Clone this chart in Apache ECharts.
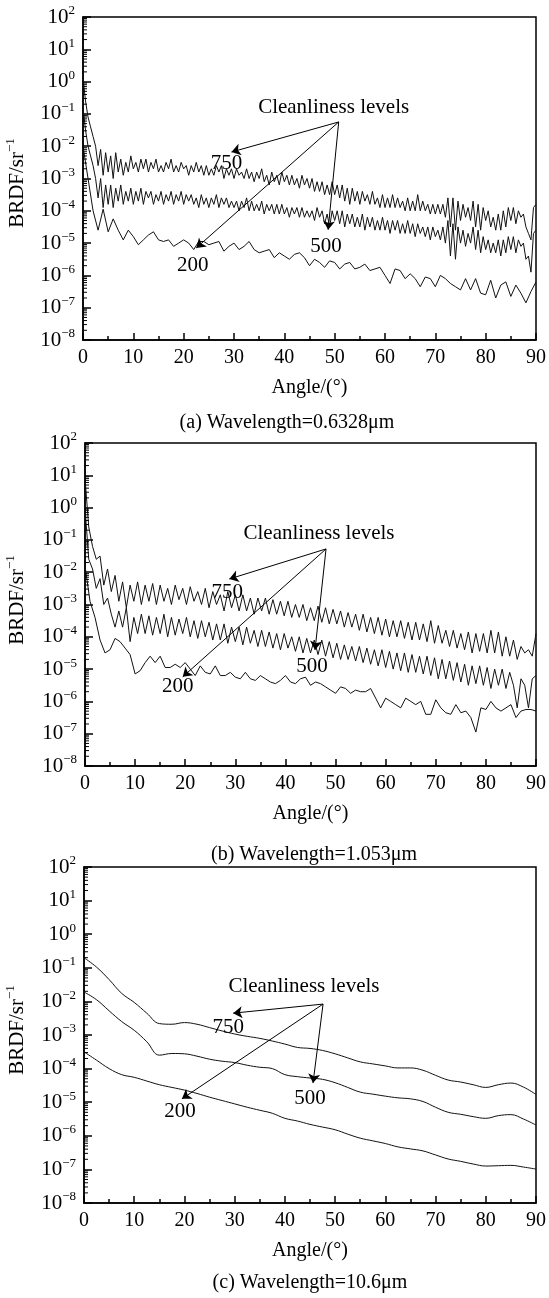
<!DOCTYPE html>
<html>
<head>
<meta charset="utf-8">
<script src="https://cdn.jsdelivr.net/npm/echarts@6/dist/echarts.min.js"></script>
<style>
html,body{margin:0;padding:0;background:#fff;}
#chart{width:549px;height:1298px;}
</style>
</head>
<body>
<div id="chart"></div>
<script>
// ---------- DATA (log10 of BRDF) ----------
// x tick labels / y decades
const xTicks = [0, 10, 20, 30, 40, 50, 60, 70, 80, 90];
const yDecades = [-8, -7, -6, -5, -4, -3, -2, -1, 0, 1, 2];
const levelLabels = ['750', '500', '200'];
const captions = ['(a) Wavelength=0.6328\u03bcm', '(b) Wavelength=1.053\u03bcm', '(c) Wavelength=10.6\u03bcm'];

// (a) 0.6328 um : angle step 0.5 deg for 750 and 500, 1 deg for 200
const stepA = 0.5, stepA200 = 1;
const a750 = [
 0.1,-0.6,-1.1,-1.4,-1.7,-2.0,-2.6,-2.1,-2.9,-2.2,
 -2.8,-2.3,-3.0,-2.2,-2.8,-2.4,-2.9,-2.5,-2.8,-2.3,
 -2.7,-2.5,-2.8,-2.4,-2.7,-2.4,-2.8,-2.5,-2.7,-2.4,
 -2.8,-2.6,-2.8,-2.5,-2.7,-2.4,-2.8,-2.6,-2.8,-2.5,
 -2.7,-2.6,-2.9,-2.6,-2.8,-2.5,-2.8,-2.6,-2.9,-2.6,
 -2.9,-2.7,-2.9,-2.6,-2.8,-2.6,-3.0,-2.7,-2.9,-2.7,
 -3.0,-2.7,-2.9,-2.8,-3.0,-2.7,-3.0,-2.8,-3.1,-2.8,
 -3.0,-2.7,-3.1,-2.9,-3.2,-2.8,-3.1,-2.9,-3.2,-2.8,
 -3.1,-2.9,-3.2,-2.9,-3.2,-3.0,-3.3,-2.9,-3.2,-3.0,
 -3.3,-3.0,-3.4,-3.1,-3.4,-3.1,-3.5,-3.2,-3.5,-3.1,
 -3.5,-3.2,-3.6,-3.2,-3.7,-3.3,-3.8,-3.3,-3.7,-3.4,
 -3.8,-3.4,-3.7,-3.5,-3.8,-3.4,-3.8,-3.6,-3.9,-3.5,
 -3.9,-3.6,-3.9,-3.5,-3.9,-3.6,-3.9,-3.7,-4.0,-3.6,
 -4.0,-3.7,-4.0,-3.5,-4.0,-3.7,-4.0,-3.8,-4.1,-3.8,
 -4.1,-3.8,-4.1,-3.8,-4.2,-3.6,-4.5,-3.6,-4.6,-3.7,
 -4.3,-3.8,-4.2,-3.9,-4.3,-3.7,-4.5,-3.8,-4.6,-3.9,
 -4.3,-4.0,-4.5,-4.2,-4.6,-4.1,-4.6,-4.0,-4.5,-3.9,
 -4.3,-3.9,-4.4,-4.0,-4.2,-4.1,-4.5,-4.7,-4.9,-3.9,
 -3.8
];
const a500 = [
 -0.8,-1.5,-2.0,-2.3,-2.6,-3.0,-3.6,-3.0,-3.9,-3.2,
 -3.8,-3.2,-3.9,-3.3,-3.7,-3.2,-3.8,-3.4,-3.7,-3.3,
 -3.8,-3.4,-3.7,-3.3,-3.8,-3.4,-3.6,-3.4,-3.8,-3.5,
 -3.7,-3.4,-3.8,-3.5,-3.7,-3.4,-3.8,-3.5,-3.7,-3.4,
 -3.8,-3.5,-3.7,-3.5,-3.8,-3.6,-3.9,-3.5,-3.8,-3.6,
 -3.9,-3.6,-3.8,-3.5,-3.9,-3.6,-3.8,-3.6,-3.9,-3.7,
 -3.9,-3.7,-4.0,-3.7,-3.9,-3.6,-4.0,-3.7,-4.0,-3.8,
 -4.0,-3.7,-4.1,-3.8,-4.0,-3.8,-4.1,-3.8,-4.1,-3.8,
 -4.1,-3.9,-4.2,-3.9,-4.1,-3.9,-4.2,-3.9,-4.2,-4.0,
 -4.2,-4.0,-4.3,-3.9,-4.2,-4.0,-4.4,-4.1,-4.5,-4.0,
 -4.3,-4.0,-4.4,-4.0,-4.5,-4.1,-4.4,-4.1,-4.5,-4.2,
 -4.5,-4.1,-4.6,-4.2,-4.5,-4.2,-4.6,-4.3,-4.6,-4.2,
 -4.6,-4.3,-4.7,-4.3,-4.6,-4.3,-4.7,-4.4,-4.7,-4.3,
 -4.7,-4.4,-4.8,-4.4,-4.7,-4.5,-4.8,-4.5,-4.9,-4.5,
 -4.8,-4.6,-4.9,-4.5,-5.0,-4.3,-5.4,-4.4,-5.5,-4.5,
 -5.0,-4.6,-5.1,-4.7,-5.0,-4.5,-5.2,-4.6,-5.3,-4.8,
 -5.2,-4.9,-5.3,-5.0,-5.3,-4.9,-5.4,-4.9,-5.3,-4.8,
 -5.2,-4.8,-5.3,-4.9,-5.1,-5.0,-5.5,-5.4,-5.9,-4.7,
 -4.6
];
const a200 = [
 -2.0,-3.0,-4.0,-4.6,-3.95,-4.65,-4.25,-4.6,-4.9,-4.6,
 -4.8,-5.05,-4.9,-4.75,-4.65,-4.9,-4.95,-4.9,-5.1,-5.0,
 -4.9,-5.0,-5.2,-4.95,-4.95,-5.05,-5.0,-4.95,-5.25,-5.1,
 -5.0,-5.2,-5.1,-4.95,-5.2,-5.3,-5.25,-5.2,-5.45,-5.3,
 -5.4,-5.5,-5.35,-5.3,-5.45,-5.7,-5.5,-5.6,-5.75,-5.55,
 -5.6,-5.8,-5.65,-5.6,-5.8,-5.75,-5.65,-5.85,-5.8,-5.75,
 -6.0,-6.25,-5.8,-5.85,-6.1,-5.95,-6.1,-6.35,-6.05,-6.1,
 -6.35,-6.0,-6.1,-6.25,-6.35,-6.45,-6.1,-6.45,-6.1,-6.55,
 -6.6,-6.15,-6.7,-6.3,-6.2,-6.65,-6.3,-6.55,-6.85,-6.5,
 -6.2
];

// (b) 1.053 um : angle step 0.75 deg for 750 and 500, 1 deg for 200
const stepB = 0.75, stepB200 = 1;
const b750 = [
 0.9,-0.6,-1.2,-1.6,-1.5,-2.4,-1.9,-2.6,
 -2.1,-2.9,-2.3,-3.1,-2.4,-2.9,-2.3,-3.0,
 -2.4,-2.9,-2.35,-3.0,-2.4,-2.9,-2.5,-3.0,
 -2.4,-2.85,-2.5,-3.0,-2.45,-2.9,-2.6,-3.0,
 -2.5,-3.1,-2.6,-3.0,-2.7,-3.2,-2.6,-3.1,
 -2.7,-3.2,-2.7,-3.2,-2.8,-3.3,-2.8,-3.2,
 -2.8,-3.3,-2.85,-3.3,-2.9,-3.35,-2.9,-3.4,
 -3.0,-3.4,-3.0,-3.5,-3.1,-3.5,-3.05,-3.55,
 -3.1,-3.6,-3.15,-3.6,-3.2,-3.7,-3.25,-3.7,
 -3.3,-3.8,-3.3,-3.85,-3.4,-3.9,-3.4,-3.95,
 -3.45,-4.0,-3.5,-4.0,-3.5,-4.05,-3.55,-4.1,
 -3.55,-4.1,-3.6,-4.15,-3.5,-4.2,-3.65,-4.2,
 -3.8,-4.3,-3.8,-4.35,-3.9,-4.4,-3.85,-4.5,
 -3.9,-4.45,-3.9,-4.5,-3.8,-4.5,-3.85,-4.6,
 -4.0,-4.6,-4.1,-4.7,-4.3,-4.5,-4.4,-4.6,
 -3.9
];
const b500 = [
 0.0,-1.6,-1.9,-2.5,-2.2,-3.0,-2.8,-3.3,
 -3.7,-3.2,-3.7,-3.1,-4.15,-3.4,-3.9,-3.3,
 -3.9,-3.35,-3.95,-3.4,-3.9,-3.3,-4.0,-3.4,
 -3.95,-3.45,-3.9,-3.4,-4.0,-3.5,-4.05,-3.5,
 -4.0,-3.55,-4.1,-3.6,-4.1,-3.6,-4.2,-3.7,
 -4.15,-3.7,-4.25,-3.7,-4.2,-3.8,-4.3,-3.8,
 -4.3,-3.85,-4.35,-3.9,-4.4,-3.9,-4.35,-4.0,
 -4.45,-4.0,-4.5,-4.05,-4.5,-4.1,-4.55,-4.1,
 -4.6,-4.15,-4.65,-4.2,-4.7,-4.25,-4.7,-4.3,
 -4.75,-4.3,-4.8,-4.35,-4.85,-4.4,-4.9,-4.4,
 -4.95,-4.45,-5.0,-4.5,-5.05,-4.5,-5.1,-4.55,
 -5.1,-4.6,-5.15,-4.6,-5.2,-4.65,-5.3,-4.7,
 -5.3,-4.75,-5.35,-4.8,-5.4,-4.85,-5.5,-4.9,
 -5.45,-4.9,-5.5,-4.95,-5.6,-5.0,-5.5,-5.0,
 -5.6,-5.1,-5.5,-6.2,-5.3,-5.5,-6.2,-5.3,
 -5.2
];
const b200 = [
 -1.8,-2.9,-3.4,-4.1,-4.5,-4.4,-4.05,-4.15,-4.35,-4.55,
 -5.15,-5.05,-4.8,-4.6,-4.8,-4.6,-4.95,-4.95,-4.85,-4.95,
 -4.8,-5.0,-5.2,-4.9,-5.1,-5.15,-4.9,-5.2,-5.2,-5.1,
 -5.25,-5.3,-5.1,-5.3,-5.35,-5.2,-5.3,-5.4,-5.45,-5.35,
 -5.2,-5.4,-5.45,-5.3,-5.25,-5.5,-5.4,-5.45,-5.55,-5.65,
 -5.75,-5.55,-5.6,-5.75,-5.65,-5.7,-5.7,-5.6,-5.9,-6.2,
 -5.9,-6.0,-6.1,-6.2,-5.9,-6.0,-6.1,-6.0,-6.4,-6.4,
 -5.95,-6.2,-6.35,-6.4,-6.1,-6.35,-6.3,-6.5,-6.95,-6.2,
 -6.25,-6.0,-6.2,-6.3,-6.2,-6.1,-6.5,-6.3,-6.25,-6.25,
 -6.3
];

// (c) 10.6 um : angle step 2.5 deg
const stepC = 2.5;
const c750 = [-0.70,-0.98,-1.35,-1.76,-2.03,-2.35,-2.66,-2.68,-2.63,-2.68,-2.78,-2.88,-2.97,-3.04,-3.10,-3.18,-3.27,-3.37,-3.40,-3.46,-3.56,-3.68,-3.80,-3.86,-3.92,-3.98,-3.98,-4.05,-4.20,-4.34,-4.40,-4.48,-4.56,-4.48,-4.43,-4.55,-4.77];
const c500 = [-1.72,-1.95,-2.28,-2.60,-2.86,-3.20,-3.60,-3.55,-3.56,-3.63,-3.72,-3.78,-3.82,-3.90,-3.96,-4.00,-4.18,-4.24,-4.28,-4.32,-4.42,-4.56,-4.70,-4.76,-4.82,-4.87,-4.90,-4.98,-5.15,-5.30,-5.36,-5.43,-5.48,-5.40,-5.37,-5.50,-5.68];
const c200 = [-3.50,-3.75,-4.00,-4.18,-4.26,-4.37,-4.48,-4.56,-4.64,-4.74,-4.85,-4.95,-5.05,-5.15,-5.24,-5.33,-5.48,-5.56,-5.66,-5.74,-5.82,-5.95,-6.07,-6.15,-6.23,-6.33,-6.39,-6.45,-6.57,-6.69,-6.76,-6.84,-6.90,-6.89,-6.88,-6.93,-6.99];

// ---------- LAYOUT ----------
const FONT = 'Liberation Serif';
const panels = [
  { grid: {left: 83, top: 17, width: 455, height: 323},
    series: [[a750, stepA, false], [a500, stepA, false], [a200, stepA200, false]],
    caption: {x: 287, y: 423}, yname: {x: 17, y: 183},
    ann: {text: [49.8, -0.79], apex: [50.8, -1.25],
          tips: [[29.5, -2.18], [48.7, -4.59], [22.5, -5.15]],
          labels: [[28.5, -2.52], [48.3, -5.12], [21.8, -5.68]]} },
  { grid: {left: 85, top: 443, width: 453, height: 323},
    series: [[b750, stepB, false], [b500, stepB, false], [b200, stepB200, false]],
    caption: {x: 314, y: 855}, yname: {x: 17, y: 600},
    ann: {text: [46.7, -0.79], apex: [48.1, -1.28],
          tips: [[28.8, -2.21], [45.9, -4.41], [19.5, -5.24]],
          labels: [[28.4, -2.64], [45.3, -4.93], [18.5, -5.55]]} },
  { grid: {left: 84, top: 867, width: 452, height: 336},
    series: [[c750, stepC, true], [c500, stepC, true], [c200, stepC, true]],
    caption: {x: 310, y: 1283}, yname: {x: 17, y: 1030},
    ann: {text: [43.8, -1.57], apex: [47.6, -2.08],
          tips: [[29.7, -2.35], [45.6, -4.43], [19.5, -4.9]],
          labels: [[28.7, -2.79], [45.0, -4.88], [19.1, -5.29]]} }
];

const toPoints = (logs, step) => logs.map((e, i) => [+(i * step).toFixed(3), Math.pow(10, e)]);
const P = (c) => [c[0], Math.pow(10, c[1])];

// minor log ticks (2..9 x 10^k)
const minorVals = [];
for (let k = yDecades[0]; k < yDecades[yDecades.length - 1]; k++) {
  for (let m = 2; m <= 9; m++) minorVals.push([0, m * Math.pow(10, k)]);
}

const supText = (n) => (n < 0 ? '\u2212' + (-n) : '' + n);

const grids = [], xAxes = [], yAxes = [], series = [], graphics = [];
panels.forEach((p, i) => {
  grids.push(Object.assign({show: true, borderColor: '#000', borderWidth: 1.5, backgroundColor: 'transparent'}, p.grid));
  xAxes.push({
    type: 'value', gridIndex: i, min: xTicks[0], max: xTicks[xTicks.length - 1], interval: 10,
    name: 'Angle/(\u00b0)', nameLocation: 'middle', nameGap: 38,
    nameTextStyle: {fontFamily: FONT, fontSize: 20, color: '#000'},
    axisLine: {show: true, onZero: false, lineStyle: {color: '#000', width: 1.5}},
    axisTick: {show: true, inside: true, length: 7, lineStyle: {color: '#000', width: 1.5}},
    minorTick: {show: true, splitNumber: 2, length: 4, lineStyle: {color: '#000', width: 1.5}},
    splitLine: {show: false},
    axisLabel: {fontFamily: FONT, fontSize: 20, color: '#000', margin: 8}
  });
  yAxes.push({
    type: 'log', logBase: 10, gridIndex: i, min: Math.pow(10, yDecades[0]), max: Math.pow(10, yDecades[yDecades.length - 1]),
    interval: 1, splitNumber: 10,
    axisLine: {show: true, onZero: false, lineStyle: {color: '#000', width: 1.5}},
    axisTick: {show: true, inside: true, length: 8, lineStyle: {color: '#000', width: 1.5}},
    splitLine: {show: false},
    axisLabel: {
      margin: 8, showMinLabel: true, showMaxLabel: true,
      formatter: (v) => '{b|10}{s|' + supText(Math.round(Math.log10(v))) + '}',
      rich: {
        b: {fontFamily: FONT, fontSize: 21, color: '#000'},
        s: {fontFamily: FONT, fontSize: 13, color: '#000', padding: [0, 0, 12, 0]}
      }
    }
  });
  p.series.forEach((s, j) => {
    const ser = {
      type: 'line', xAxisIndex: i, yAxisIndex: i, name: levelLabels[j],
      data: toPoints(s[0], s[1]), showSymbol: false, symbol: 'none', smooth: s[2] ? 0.4 : false,
      lineStyle: {color: '#111', width: 1}, silent: true, z: 2
    };
    if (j === 0) {
      const a = p.ann;
      ser.markLine = {
        silent: true, symbol: ['none', 'arrow'], symbolSize: 9, animation: false,
        lineStyle: {color: '#000', width: 1, type: 'solid'}, label: {show: false},
        emphasis: {disabled: true},
        data: a.tips.map(t => [{coord: P(a.apex)}, {coord: P(t)}])
      };
      ser.markPoint = {
        silent: true, symbol: 'circle', symbolSize: 1, animation: false,
        itemStyle: {color: 'rgba(0,0,0,0)'},
        label: {show: true, position: 'inside', fontFamily: FONT, fontSize: 21, color: '#000'},
        data: [{coord: P(a.text), value: 'Cleanliness levels', label: {formatter: 'Cleanliness levels'}}]
          .concat(a.labels.map((l, k) => ({coord: P(l), label: {formatter: levelLabels[k]}})))
      };
    }
    series.push(ser);
  });
  series.push({
    type: 'custom', xAxisIndex: i, yAxisIndex: i, silent: true, clip: false, z: 3,
    data: minorVals,
    renderItem: (params, api) => {
      const pt = api.coord([api.value(0), api.value(1)]);
      return {type: 'line', shape: {x1: pt[0], y1: pt[1], x2: pt[0] + 4, y2: pt[1]},
              style: {stroke: '#000', lineWidth: 1}};
    }
  });
  graphics.push({
    type: 'text', x: p.caption.x, y: p.caption.y,
    style: {text: captions[i], font: '20px "' + FONT + '"', fill: '#000', align: 'center', verticalAlign: 'middle'}
  });
  graphics.push({
    type: 'text', x: p.yname.x, y: p.yname.y, rotation: Math.PI / 2,
    style: {text: '{m|BRDF/sr}{s|\u22121}', align: 'center', verticalAlign: 'middle',
      rich: {m: {fontFamily: FONT, fontSize: 21, fill: '#000', color: '#000'},
             s: {fontFamily: FONT, fontSize: 13, fill: '#000', color: '#000', padding: [0, 0, 12, 0]}}}
  });
});

const chart = echarts.init(document.getElementById('chart'), null, {renderer: 'canvas'});
chart.setOption({
  animation: false,
  backgroundColor: '#fff',
  grid: grids, xAxis: xAxes, yAxis: yAxes, series: series, graphic: graphics
});
</script>
</body>
</html>
